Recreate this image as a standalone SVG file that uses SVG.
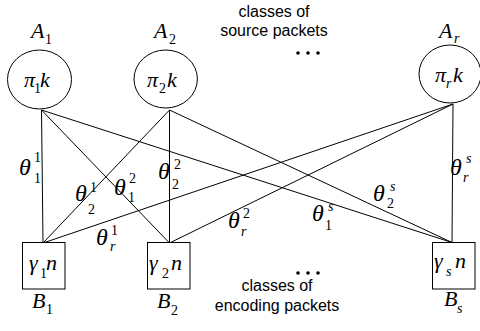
<svg xmlns="http://www.w3.org/2000/svg" width="480" height="331" viewBox="0 0 480 331">
  <style>
    .node { fill: #fff; stroke: #000; stroke-width: 1; }
    .edge { stroke: #000; stroke-width: 1; fill: none; }
    .m { font-family: "Liberation Serif", "Times New Roman", serif; font-style: italic; font-size: 22px; fill: #000; }
    .t { font-family: "Liberation Serif", "Times New Roman", serif; font-style: italic; font-size: 24px; fill: #000; }
    .s { font-family: "Liberation Serif", "Times New Roman", serif; font-size: 14px; fill: #000; }
    .si { font-family: "Liberation Serif", "Times New Roman", serif; font-style: italic; font-size: 14px; fill: #000; }
    .cap { font-family: "Liberation Sans", Arial, sans-serif; font-size: 16px; fill: #000; text-anchor: middle; }
  </style>
  <rect width="480" height="331" fill="#fff"/>

  <!-- connectors: every source class feeds every encoding class -->
  <g id="connectors" class="edge">
    <line x1="41.5" y1="110" x2="43" y2="243"/>
    <line x1="41.5" y1="110" x2="169.5" y2="243"/>
    <line x1="41.5" y1="110" x2="452" y2="242.5"/>
    <line x1="169.5" y1="110" x2="43" y2="243"/>
    <line x1="169.5" y1="110" x2="169.5" y2="243"/>
    <line x1="169.5" y1="110" x2="452" y2="242.5"/>
    <line x1="453" y1="104" x2="43" y2="243"/>
    <line x1="453" y1="104" x2="169.5" y2="243"/>
    <line x1="453" y1="104" x2="452" y2="242.5"/>
  </g>

  <!-- edge weights theta (sub: encoding class, sup: source class) -->
  <g id="weights">
    <text class="t" x="19" y="175">θ</text><text class="s" x="34" y="162">1</text><text class="s" x="34" y="183">1</text>
    <text class="t" x="75" y="201">θ</text><text class="s" x="90" y="192">1</text><text class="s" x="88" y="214">2</text>
    <text class="t" x="114" y="195">θ</text><text class="s" x="129" y="183">2</text><text class="s" x="128" y="202">1</text>
    <text class="t" x="158" y="179">θ</text><text class="s" x="174" y="169">2</text><text class="s" x="172" y="189">2</text>
    <text class="t" x="96" y="245">θ</text><text class="s" x="111" y="235">1</text><text class="si" x="110" y="251">r</text>
    <text class="t" x="228" y="228">θ</text><text class="s" x="243" y="218">2</text><text class="si" x="241" y="236">r</text>
    <text class="t" x="312" y="221">θ</text><text class="si" x="328" y="211">s</text><text class="s" x="325" y="230">1</text>
    <text class="t" x="373" y="201">θ</text><text class="si" x="390" y="191">s</text><text class="s" x="387" y="208">2</text>
    <text class="t" x="450" y="175">θ</text><text class="si" x="466" y="163">s</text><text class="si" x="463" y="182">r</text>
  </g>

  <!-- source classes -->
  <g id="A1">
    <ellipse class="node" cx="39.5" cy="79.5" rx="32" ry="29.5"/>
    <text class="m" x="24" y="87">π</text><text class="s" x="34" y="93">1</text><text class="m" x="40" y="87">k</text>
    <text class="m" x="31" y="38">A</text><text class="s" x="45" y="44">1</text>
  </g>
  <g id="A2">
    <ellipse class="node" cx="165.7" cy="79" rx="31.7" ry="29"/>
    <text class="m" x="147" y="87">π</text><text class="s" x="159" y="93">2</text><text class="m" x="167" y="87">k</text>
    <text class="m" x="154" y="38">A</text><text class="s" x="169" y="44">2</text>
  </g>
  <g id="Ar">
    <ellipse class="node" cx="450" cy="74" rx="31" ry="29"/>
    <text class="m" x="435" y="82">π</text><text class="si" x="446" y="88">r</text><text class="m" x="453" y="82">k</text>
    <text class="m" x="439" y="38">A</text><text class="si" x="454" y="43">r</text>
  </g>

  <!-- encoding classes -->
  <g id="B1">
    <rect class="node" x="22.5" y="242.5" width="42.5" height="46.5"/>
    <text class="m" x="29" y="270">γ</text><text class="s" x="40" y="278">1</text><text class="m" x="46" y="270">n</text>
    <text class="m" x="32" y="308">B</text><text class="s" x="46" y="314">1</text>
  </g>
  <g id="B2">
    <rect class="node" x="147.5" y="242.5" width="42.5" height="46.5"/>
    <text class="m" x="149" y="270">γ</text><text class="s" x="162" y="278">2</text><text class="m" x="171" y="270">n</text>
    <text class="m" x="157" y="308">B</text><text class="s" x="171" y="315">2</text>
  </g>
  <g id="Bs">
    <rect class="node" x="432.5" y="242.5" width="42.5" height="46.5"/>
    <text class="m" x="434" y="268">γ</text><text class="si" x="446" y="276">s</text><text class="m" x="455" y="268">n</text>
    <text class="m" x="444" y="306">B</text><text class="si" x="457" y="313">s</text>
  </g>

  <!-- captions -->
  <g id="captions">
    <text class="cap" x="274" y="16.5">classes of</text>
    <text class="cap" x="274" y="36">source packets</text>
    <circle cx="298" cy="53" r="1.8"/><circle cx="308" cy="53" r="1.8"/><circle cx="318" cy="53" r="1.8"/>
    <circle cx="298" cy="273" r="1.8"/><circle cx="308" cy="273" r="1.8"/><circle cx="318" cy="273" r="1.8"/>
    <text class="cap" x="277" y="291">classes of</text>
    <text class="cap" x="277" y="311">encoding packets</text>
  </g>
</svg>
